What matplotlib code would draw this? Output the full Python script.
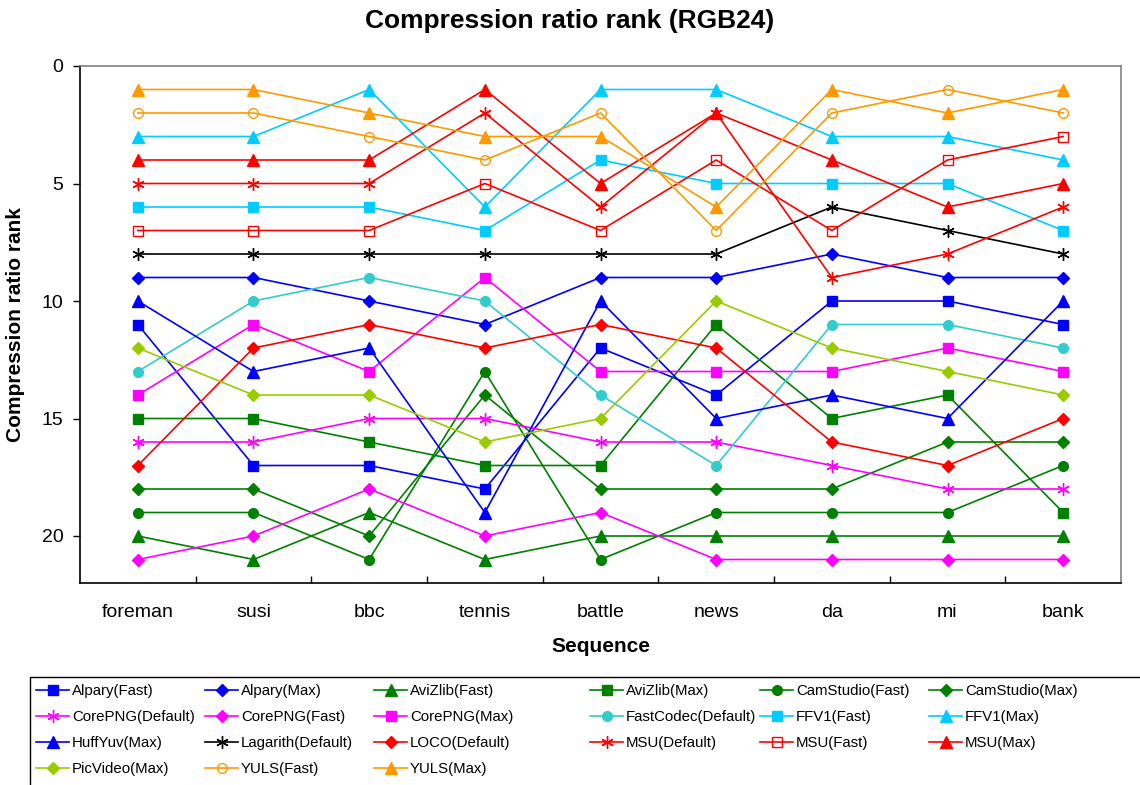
import matplotlib
matplotlib.use("Agg")
import matplotlib.pyplot as plt
from matplotlib.patches import Rectangle

plt.rcParams['font.family'] = ['Liberation Sans', 'DejaVu Sans']

sequences = ["foreman", "susi", "bbc", "tennis", "battle", "news", "da", "mi", "bank"]
y_ticks = [0, 5, 10, 15, 20]

alpary_fast = [11, 17, 17, 18, 12, 14, 10, 10, 11]
alpary_max = [9, 9, 10, 11, 9, 9, 8, 9, 9]
avizlib_fast = [20, 21, 19, 21, 20, 20, 20, 20, 20]
avizlib_max = [15, 15, 16, 17, 17, 11, 15, 14, 19]
camstudio_fast = [19, 19, 21, 13, 21, 19, 19, 19, 17]
camstudio_max = [18, 18, 20, 14, 18, 18, 18, 16, 16]
corepng_default = [16, 16, 15, 15, 16, 16, 17, 18, 18]
corepng_fast = [21, 20, 18, 20, 19, 21, 21, 21, 21]
corepng_max = [14, 11, 13, 9, 13, 13, 13, 12, 13]
fastcodec_default = [13, 10, 9, 10, 14, 17, 11, 11, 12]
ffv1_fast = [6, 6, 6, 7, 4, 5, 5, 5, 7]
ffv1_max = [3, 3, 1, 6, 1, 1, 3, 3, 4]
huffyuv_max = [10, 13, 12, 19, 10, 15, 14, 15, 10]
lagarith_default = [8, 8, 8, 8, 8, 8, 6, 7, 8]
loco_default = [17, 12, 11, 12, 11, 12, 16, 17, 15]
msu_default = [5, 5, 5, 2, 6, 2, 9, 8, 6]
msu_fast = [7, 7, 7, 5, 7, 4, 7, 4, 3]
msu_max = [4, 4, 4, 1, 5, 2, 4, 6, 5]
picvideo_max = [12, 14, 14, 16, 15, 10, 12, 13, 14]
yuls_fast = [2, 2, 3, 4, 2, 7, 2, 1, 2]
yuls_max = [1, 1, 2, 3, 3, 6, 1, 2, 1]

BLUE = '#0000FF'; GREEN = '#008000'; MAG = '#FF00FF'; TEAL = '#33CCCC'
CYAN = '#00CCFF'; RED = '#FF0000'; BLACK = '#000000'; YG = '#99CC00'; ORANGE = '#FF9900'
STAR = (6, 2, 0)

series = [
    ("Alpary(Fast)", alpary_fast, BLUE, 's', True),
    ("Alpary(Max)", alpary_max, BLUE, 'D', True),
    ("AviZlib(Fast)", avizlib_fast, GREEN, '^', True),
    ("AviZlib(Max)", avizlib_max, GREEN, 's', True),
    ("CamStudio(Fast)", camstudio_fast, GREEN, 'o', True),
    ("CamStudio(Max)", camstudio_max, GREEN, 'D', True),
    ("CorePNG(Default)", corepng_default, MAG, STAR, True),
    ("CorePNG(Fast)", corepng_fast, MAG, 'D', True),
    ("CorePNG(Max)", corepng_max, MAG, 's', True),
    ("FastCodec(Default)", fastcodec_default, TEAL, 'o', True),
    ("FFV1(Fast)", ffv1_fast, CYAN, 's', True),
    ("FFV1(Max)", ffv1_max, CYAN, '^', True),
    ("HuffYuv(Max)", huffyuv_max, BLUE, '^', True),
    ("Lagarith(Default)", lagarith_default, BLACK, STAR, True),
    ("LOCO(Default)", loco_default, RED, 'D', True),
    ("MSU(Default)", msu_default, RED, STAR, True),
    ("MSU(Fast)", msu_fast, RED, 's', False),
    ("MSU(Max)", msu_max, RED, '^', True),
    ("PicVideo(Max)", picvideo_max, YG, 'D', True),
    ("YULS(Fast)", yuls_fast, ORANGE, 'o', False),
    ("YULS(Max)", yuls_max, ORANGE, '^', True),
]

W, H = 1140, 785
fig = plt.figure(figsize=(W / 100, H / 100), dpi=100)
ax = fig.add_axes([80 / W, 1 - 583 / H, (1121 - 80) / W, (583 - 66) / H])

x = list(range(len(sequences)))
handles = []
for name, vals, col, mk, filled in series:
    ms = 7
    if mk == 'D':
        ms = 6.5
    elif mk == '^':
        ms = 8
    elif mk == STAR:
        ms = 9
    h, = ax.plot(x, vals, color=col, lw=1.2, marker=mk, markersize=ms,
                 markerfacecolor=col if filled else 'none', markeredgecolor=col,
                 markeredgewidth=1.0, label=name)
    handles.append(h)

ax.set_xlim(-0.5, len(sequences) - 0.5)
ax.set_ylim(22, 0)
ax.set_yticks(y_ticks)
ax.set_yticklabels([str(v) for v in y_ticks], fontsize=14)
ax.set_xticks(x)
ax.set_xticklabels(sequences, fontsize=14)
ax.set_xticks([i + 0.5 for i in x[:-1]], minor=True)
ax.tick_params(axis='x', which='major', length=0, pad=15)
ax.tick_params(axis='x', which='minor', length=5, direction='in', width=1)
ax.tick_params(axis='y', which='major', length=5, direction='out', width=1, pad=7)
ax.set_yticks([2.5, 7.5, 12.5, 17.5], minor=True)
ax.tick_params(axis='y', which='minor', length=0)

for s in ['top', 'right']:
    ax.spines[s].set_color('#808080')
    ax.spines[s].set_linewidth(1.2)
for s in ['left', 'bottom']:
    ax.spines[s].set_color('#000000')
    ax.spines[s].set_linewidth(1.2)

fig.text(0.5, 1 - 21 / H, "Compression ratio rank (RGB24)", fontsize=19,
         fontweight='bold', ha='center', va='center')
ax.set_ylabel("Compression ratio rank", fontsize=15, fontweight='bold', labelpad=12)
ax.set_xlabel("Sequence", fontsize=15, fontweight='bold', labelpad=12)

# legend frame
fig.add_artist(Rectangle((30 / W, -0.05), 1.2, (1 - 677 / H) + 0.05,
                         transform=fig.transFigure, facecolor='white',
                         edgecolor='black', linewidth=1.0))

ncol = 6
nrow = 4
col_x = [36, 205, 374, 590, 760, 929]
for j in range(ncol):
    idx = [r * ncol + j for r in range(nrow) if r * ncol + j < len(handles)]
    lg = fig.legend([handles[k] for k in idx], [series[k][0] for k in idx],
                    loc='upper left', bbox_to_anchor=(col_x[j] / W, 1 - 684 / H),
                    fontsize=10.8, frameon=False, borderpad=0, borderaxespad=0,
                    handlelength=2.2, handletextpad=0.2, labelspacing=0.8)

fig.savefig("out.png", dpi=100)
